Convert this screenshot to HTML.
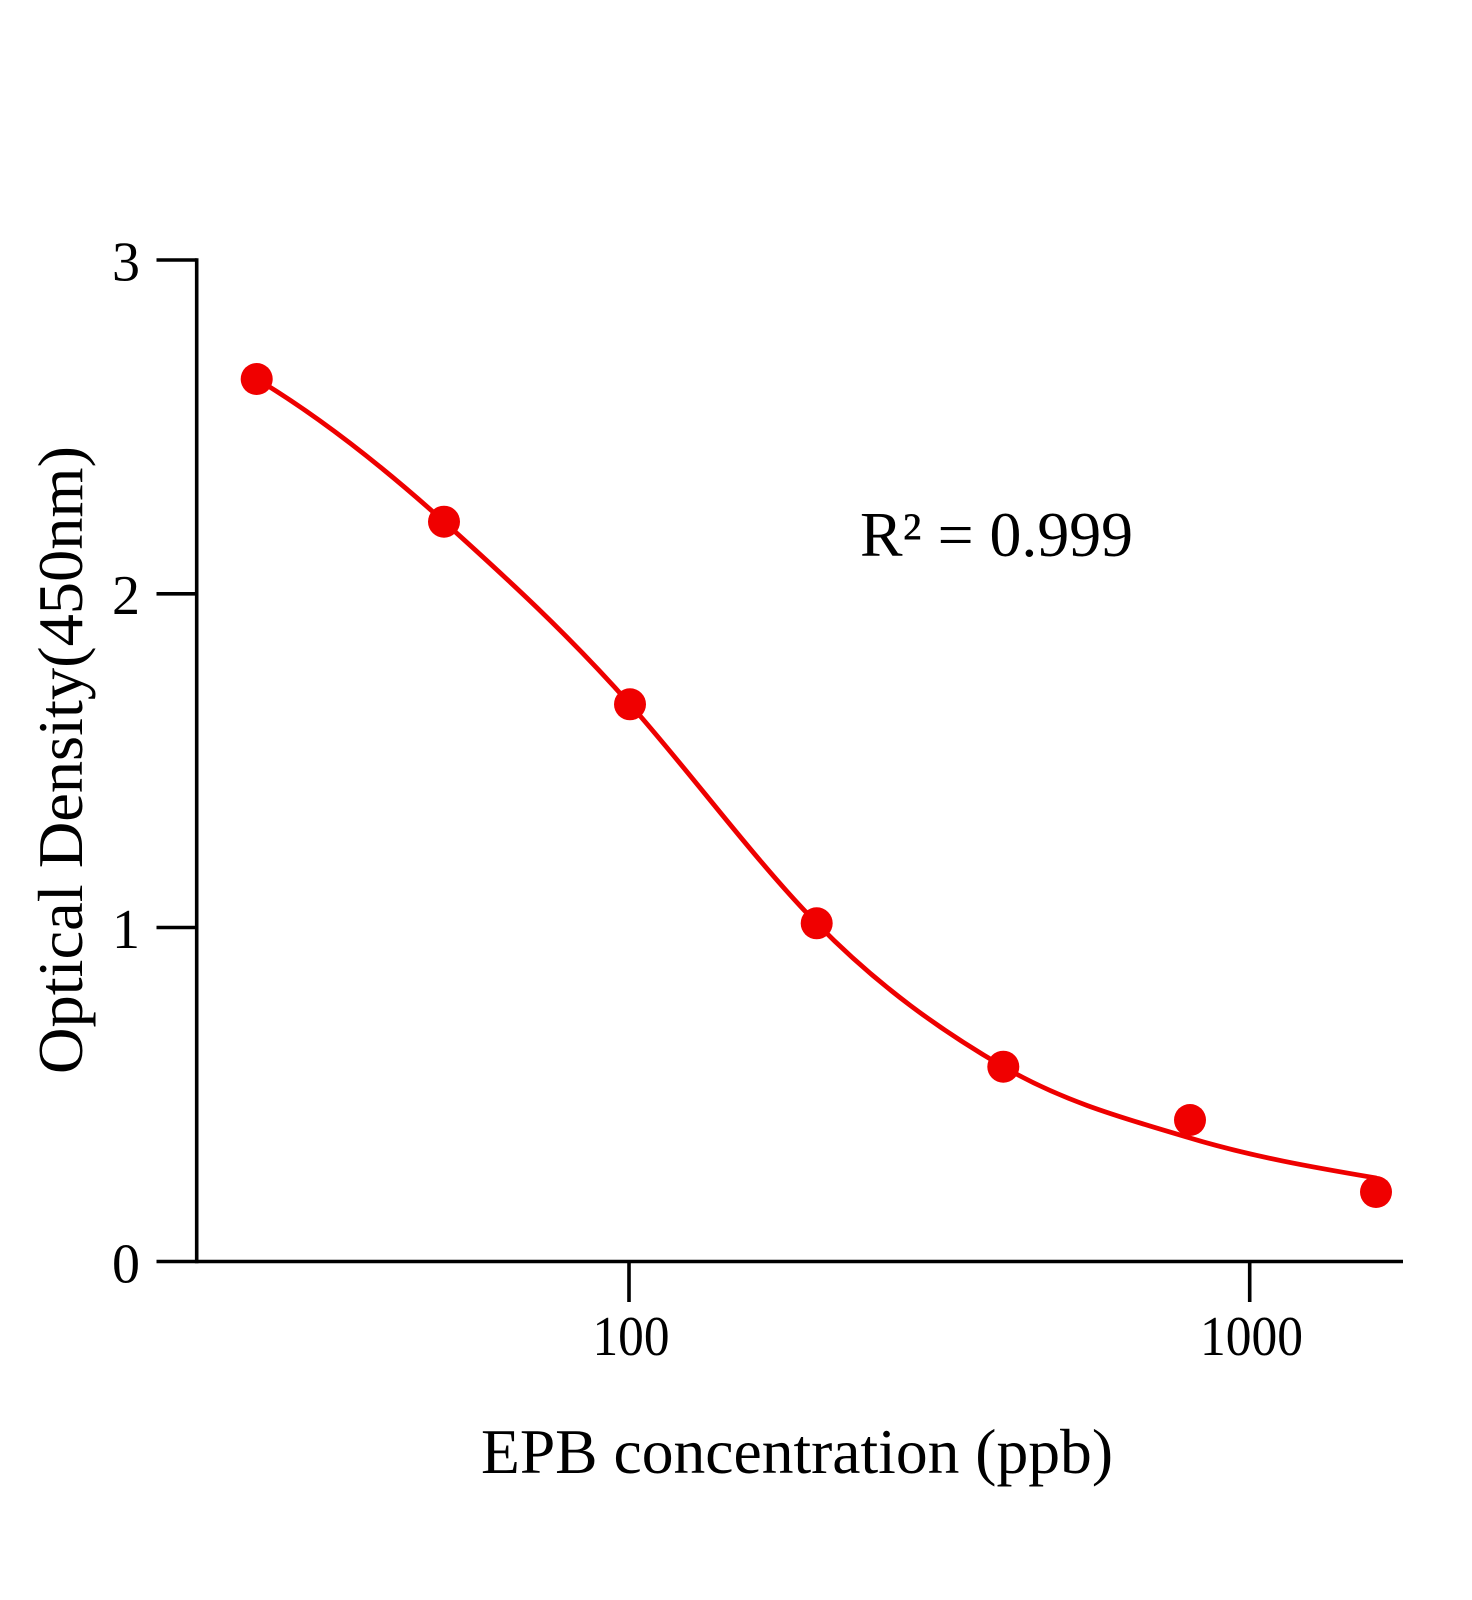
<!DOCTYPE html>
<html>
<head>
<meta charset="utf-8">
<style>
  html, body { margin: 0; padding: 0; background: #ffffff; }
  svg { display: block; }
  text { font-family: "Liberation Serif", "DejaVu Serif", serif; fill: #000; }
</style>
</head>
<body>
<svg width="1472" height="1600" viewBox="0 0 1472 1600" xmlns="http://www.w3.org/2000/svg">
  <rect x="0" y="0" width="1472" height="1600" fill="#ffffff"/>

  <!-- Axes -->
  <g stroke="#000" stroke-width="3.6" fill="none" stroke-linecap="butt">
    <line x1="196.7" y1="258.3" x2="196.7" y2="1263.3"/>
    <line x1="156.5" y1="1261.5" x2="1403" y2="1261.5"/>
    <line x1="156.5" y1="260" x2="196.7" y2="260"/>
    <line x1="156.5" y1="593.8" x2="196.7" y2="593.8"/>
    <line x1="156.5" y1="927.5" x2="196.7" y2="927.5"/>
    <line x1="629" y1="1261.5" x2="629" y2="1302"/>
    <line x1="1249.7" y1="1261.5" x2="1249.7" y2="1302"/>
  </g>

  <!-- Y tick labels -->
  <g font-size="56" text-anchor="end">
    <text x="140" y="280.5">3</text>
    <text x="140" y="614">2</text>
    <text x="140" y="948">1</text>
    <text x="140" y="1282.5">0</text>
  </g>

  <!-- X tick labels -->
  <g font-size="56" text-anchor="middle">
    <text x="631" y="1355" textLength="77" lengthAdjust="spacingAndGlyphs">100</text>
    <text x="1251.5" y="1355" textLength="103" lengthAdjust="spacingAndGlyphs">1000</text>
  </g>

  <!-- Axis titles -->
  <text x="797" y="1473" font-size="64" text-anchor="middle" textLength="632" lengthAdjust="spacingAndGlyphs">EPB concentration (ppb)</text>
  <text transform="translate(82,760) rotate(-90)" x="0" y="0" font-size="64" text-anchor="middle" textLength="628" lengthAdjust="spacingAndGlyphs">Optical Density(450nm)</text>

  <!-- R squared -->
  <text x="860" y="556" font-size="64" textLength="273" lengthAdjust="spacingAndGlyphs">R² = 0.999</text>

  <!-- Fitted curve -->
  <path d="M256.7,379
           C319.1,416.5 381.6,465.5 444,521.7
           C506,577.5 568,634.2 630,704.3
           C692.2,774.6 754.5,859.8 816.7,923.3
           C878.9,986.7 941.1,1030.6 1003.3,1066.7
           C1065.5,1102.8 1127.8,1119.3 1190,1138
           C1252,1156.7 1314,1167.5 1376,1178"
        fill="none" stroke="#ee0000" stroke-width="4.8" stroke-linecap="round" stroke-linejoin="round"/>

  <!-- Data points -->
  <g fill="#f00000">
    <circle cx="256.7" cy="379" r="16"/>
    <circle cx="444" cy="521.7" r="16"/>
    <circle cx="630" cy="704.3" r="16"/>
    <circle cx="816.7" cy="923.3" r="16"/>
    <circle cx="1003.3" cy="1066.7" r="16"/>
    <circle cx="1190" cy="1120" r="16"/>
    <circle cx="1376" cy="1192" r="16"/>
  </g>
</svg>
</body>
</html>
